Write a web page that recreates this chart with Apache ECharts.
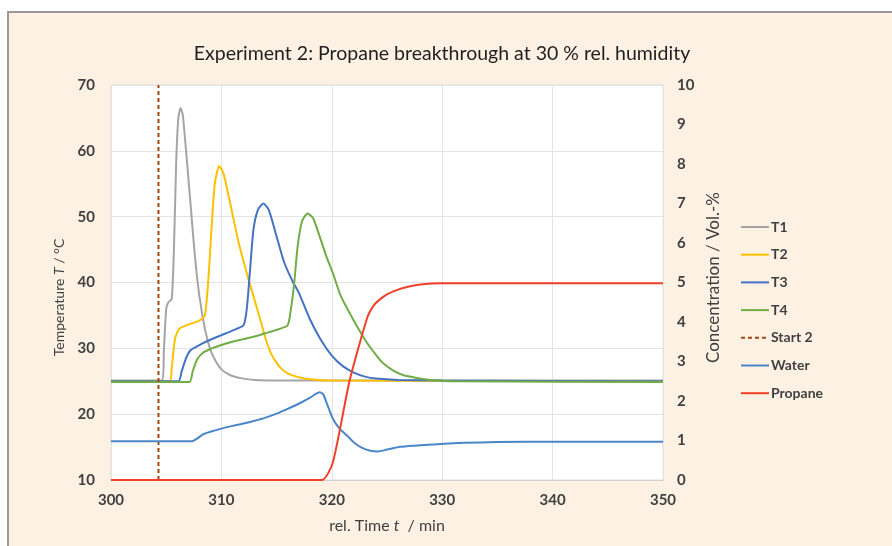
<!DOCTYPE html>
<html>
<head>
<meta charset="utf-8">
<title>Experiment 2: Propane breakthrough</title>
<script src="https://cdn.jsdelivr.net/npm/echarts@6/dist/echarts.min.js"></script>
<style>
  html, body { margin: 0; padding: 0; background: #ffffff; }
  #chart { width: 892px; height: 546px; }
</style>
</head>
<body>
<div id="chart"></div>
<script>
// Time axis ticks (min) and axis ranges
const timeTicks = [300, 310, 320, 330, 340, 350];
const tempTicks = [10, 20, 30, 40, 50, 60, 70];
const concTicks = [0, 1, 2, 3, 4, 5, 6, 7, 8, 9, 10];

// Start of experiment 2 (rel. time, min)
const start2Time = 304.3;

// Temperature T1 [time, °C]
const t1 = [
  [300, 25.1], [304.6, 25.1], [304.8, 30], [305.0, 36], [305.2, 37], [305.5, 37.5],
  [305.7, 45], [305.9, 58], [306.1, 65], [306.3, 66.5], [306.5, 65.5], [306.8, 60],
  [307.2, 52], [307.6, 44], [308.0, 38], [308.5, 33], [309.0, 29.8], [309.5, 28],
  [310.0, 26.8], [310.5, 26.2], [311, 25.8], [312, 25.4], [313, 25.2], [315, 25.1], [350, 25.1]
];

// Temperature T2 [time, °C]
const t2 = [
  [300, 25], [305.3, 25], [305.5, 27], [305.8, 31.5], [306.2, 33], [307, 33.6], [308, 34.2],
  [308.5, 35], [308.8, 40], [309.1, 48], [309.4, 55], [309.8, 57.7], [310.2, 56.5],
  [310.8, 52], [311.5, 46.5], [312.2, 42], [312.8, 38.5], [313.5, 34.5], [314, 31.5],
  [314.5, 29.2], [315, 27.8], [315.5, 26.8], [316, 26.2], [317, 25.6], [318, 25.3],
  [320, 25.1], [350, 25]
];

// Temperature T3 [time, °C]
const t3 = [
  [300, 25], [306.1, 25], [306.4, 26.5], [306.8, 28.5], [307.2, 29.7], [308, 30.5],
  [309, 31.3], [310, 32], [311, 32.7], [312, 33.5], [312.3, 36], [312.6, 42], [312.9, 48],
  [313.3, 51], [313.8, 52], [314.3, 51], [315, 47], [315.7, 43], [316.5, 40], [317, 38.5],
  [318, 34.5], [319, 31.3], [320, 28.9], [321, 27.3], [322, 26.3], [323, 25.7], [324, 25.4],
  [326, 25.2], [330, 25.1], [350, 25]
];

// Temperature T4 [time, °C]
const t4 = [
  [300, 24.9], [307.1, 24.9], [307.4, 26.5], [307.8, 28.3], [308.3, 29.3], [309, 29.9],
  [310, 30.5], [311, 31], [312, 31.4], [313, 31.8], [314, 32.3], [315, 32.8], [316, 33.5],
  [316.3, 36], [316.6, 40], [316.9, 45.4], [317.3, 49.3], [317.8, 50.5], [318.3, 49.8],
  [318.8, 47.5], [319.5, 44], [320.1, 41.4], [320.8, 38], [321.6, 35.4], [322.4, 33],
  [323.2, 30.8], [324, 29], [324.6, 27.8], [325.5, 26.7], [326.5, 25.9], [327.7, 25.5],
  [329, 25.2], [331, 25], [350, 24.9]
];

// Water concentration [time, Vol.-%]
const water = [
  [300, 0.98], [307.3, 0.98], [307.8, 1.05], [308.3, 1.15], [309, 1.22], [310, 1.3],
  [311, 1.37], [312, 1.43], [313, 1.5], [314, 1.58], [315, 1.68], [316, 1.8], [317, 1.93],
  [318, 2.08], [318.9, 2.22], [319.2, 2.18], [319.6, 1.9], [320.1, 1.55], [320.7, 1.3],
  [321.4, 1.12], [322, 0.95], [322.7, 0.82], [323.5, 0.74], [324.1, 0.72], [325, 0.77],
  [326.2, 0.84], [327.5, 0.87], [329.2, 0.9], [332, 0.94], [335, 0.96], [340, 0.97], [350, 0.97]
];

// Propane concentration [time, Vol.-%]
const propane = [
  [300, 0], [319.1, 0], [320.1, 0.45], [321.6, 2.5], [323.2, 4.1], [323.8, 4.42],
  [324.3, 4.56], [325, 4.7], [326, 4.82], [327, 4.9], [328, 4.95], [330, 4.98], [350, 4.98]
];

const FONT = 'Lato, "Open Sans", sans-serif';
const TEXT = '#404040';

const chart = echarts.init(document.getElementById('chart'));

function lineSeries(name, data, color, yAxisIndex, extra) {
  return Object.assign({
    name: name,
    type: 'line',
    data: data,
    yAxisIndex: yAxisIndex,
    symbol: 'none',
    smooth: 0.2,
    lineStyle: { color: color, width: 2 },
    itemStyle: { color: color },
    animation: false
  }, extra || {});
}

chart.setOption({
  backgroundColor: '#ffffff',
  animation: false,
  graphic: [{
    type: 'rect',
    z: -10,
    silent: true,
    shape: { x: 8, y: 12, width: 900, height: 560 },
    style: { fill: '#fdf1e4', stroke: '#9a9a9a', lineWidth: 2 }
  }],
  title: {
    text: 'Experiment 2: Propane breakthrough at 30 % rel. humidity',
    left: 437,
    textAlign: 'center',
    top: 39,
    textStyle: { fontFamily: FONT, fontSize: 19.5, fontWeight: 'normal', color: '#1f1f1f' }
  },
  grid: {
    left: 111, right: 229, top: 85, bottom: 66,
    show: true, backgroundColor: '#ffffff', borderColor: '#dcdcdc', borderWidth: 1
  },
  legend: {
    orient: 'vertical',
    left: 740,
    top: 220,
    padding: 0,
    itemWidth: 28,
    itemHeight: 14,
    itemGap: 13.7,
    itemStyle: { opacity: 0 },
    data: ['T1', 'T2', 'T3', 'T4', 'Start 2', 'Water', 'Propane'],
    textStyle: { fontFamily: FONT, fontSize: 14, fontWeight: 'bold', color: TEXT, padding: [0, 0, 0, -3] }
  },
  xAxis: {
    type: 'value',
    min: timeTicks[0],
    max: timeTicks[timeTicks.length - 1],
    interval: 10,
    name: '{n|rel. Time }{i|t}{n|  / min}',
    nameLocation: 'middle',
    nameGap: 38,
    nameTextStyle: {
      rich: {
        n: { fontFamily: FONT, fontSize: 16, color: TEXT },
        i: { fontFamily: FONT, fontSize: 16, color: TEXT, fontStyle: 'italic' }
      }
    },
    axisLine: { lineStyle: { color: '#d0d0d0' } },
    axisTick: { show: false },
    axisLabel: { margin: 13, fontFamily: FONT, fontSize: 15, fontWeight: 'bold', color: TEXT },
    splitLine: { show: true, lineStyle: { color: '#e4e4e4' } }
  },
  yAxis: [{
    type: 'value',
    min: tempTicks[0],
    max: tempTicks[tempTicks.length - 1],
    interval: 10,
    name: '{n|Temperature }{i|T}{n| / °C}',
    nameLocation: 'middle',
    nameRotate: 90,
    nameGap: 31,
    nameTextStyle: {
      padding: [0, 30, 0, 0],
      rich: {
        n: { fontFamily: FONT, fontSize: 14, color: TEXT },
        i: { fontFamily: FONT, fontSize: 14, color: TEXT, fontStyle: 'italic' }
      }
    },
    axisLine: { show: false },
    axisTick: { show: false },
    axisLabel: { margin: 16, fontFamily: FONT, fontSize: 15, fontWeight: 'bold', color: TEXT },
    splitLine: { show: true, lineStyle: { color: '#e4e4e4' } }
  }, {
    type: 'value',
    min: concTicks[0],
    max: concTicks[concTicks.length - 1],
    interval: 1,
    position: 'right',
    name: 'Concentration / Vol.-%',
    nameLocation: 'middle',
    nameRotate: 90,
    nameGap: 42,
    nameTextStyle: { fontFamily: FONT, fontSize: 17, color: TEXT, padding: [0, 0, 0, 10] },
    axisLine: { show: false },
    axisTick: { show: false },
    axisLabel: { margin: 14, fontFamily: FONT, fontSize: 15, fontWeight: 'bold', color: TEXT },
    splitLine: { show: false }
  }],
  series: [
    lineSeries('T1', t1, '#a5a5a5', 0),
    lineSeries('T2', t2, '#ffc000', 0),
    lineSeries('T3', t3, '#4472c4', 0),
    lineSeries('T4', t4, '#70ad47', 0),
    lineSeries('Start 2', [[start2Time, tempTicks[0]], [start2Time, tempTicks[tempTicks.length - 1]]], '#9e480e', 0, {
      smooth: false,
      lineStyle: { color: '#9e480e', width: 2, type: [4, 3] }
    }),
    lineSeries('Water', water, '#4a86c8', 1),
    lineSeries('Propane', propane, '#f0402a', 1)
  ]
});
</script>
</body>
</html>
